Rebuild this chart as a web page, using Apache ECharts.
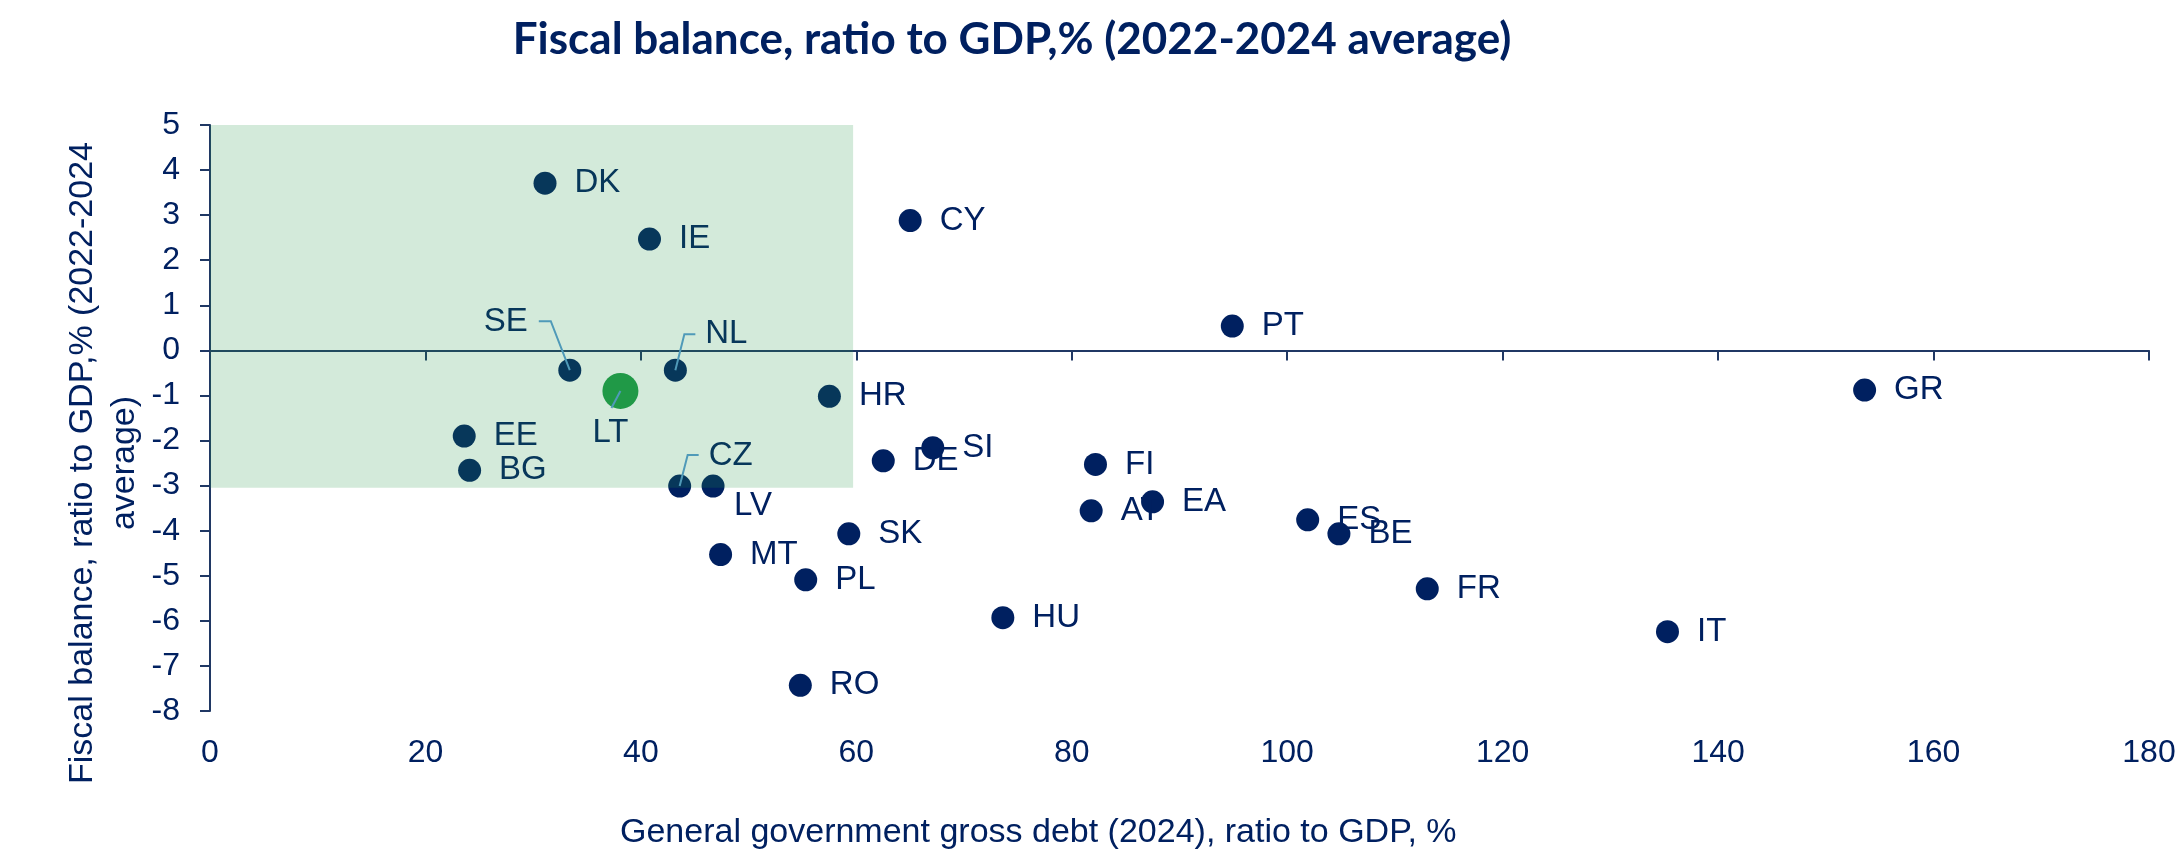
<!DOCTYPE html>
<html>
<head>
<meta charset="utf-8">
<script src="https://cdn.jsdelivr.net/npm/echarts@6/dist/echarts.min.js"></script>
<style>
  html, body { margin: 0; padding: 0; background: #fff; }
  #chart { width: 2182px; height: 856px; }
</style>
</head>
<body>
<div id="chart"></div>
<script>
// Country codes, debt (x) and fiscal balance (y)
const countries = ['DK', 'IE', 'SE', 'NL', 'LT', 'HR', 'EE', 'BG', 'CZ', 'LV', 'MT', 'PL', 'SK', 'RO',
    'CY', 'PT', 'SI', 'DE', 'FI', 'AT', 'EA', 'ES', 'BE', 'FR', 'HU', 'GR', 'IT'];
const debt = [31.1, 40.8, 33.4, 43.2, 38.1, 57.5, 23.6, 24.1, 43.6, 46.7, 47.4, 55.3, 59.3, 54.8,
    65.0, 94.9, 67.1, 62.5, 82.2, 81.8, 87.5, 101.9, 104.8, 113.0, 73.6, 153.6, 135.3];
const balance = [3.71, 2.47, -0.44, -0.44, -0.90, -1.02, -1.90, -2.66, -3.01, -3.01, -4.53, -5.09, -4.07, -7.43,
    2.88, 0.54, -2.16, -2.45, -2.53, -3.56, -3.36, -3.76, -4.07, -5.29, -5.93, -0.88, -6.24];

// Shaded zone (debt <= 60, balance >= -3)
const zoneX = [0, 59.7];
const zoneY = [-3.05, 5];

const highlight = 'LT';

// Labels moved off the default right side (pixel offsets from the dot)
const labelOffsets = {
    SE: [-64, -48],
    NL: [51, -36],
    CZ: [51, -30],
    LV: [40, 20],
    LT: [-10, 42]
};
// Leader lines (pixel offsets from the dot)
const leaders = {
    SE: [[0, 0], [-19, -49], [-31, -49]],
    NL: [[0, 0], [9, -36], [20, -36]],
    CZ: [[0, 0], [8, -31], [19, -31]],
    LT: [[0, 0], [-9, 17]]
};

const navy = '#002060';
const axisColor = '#203864';
const font = 'Liberation Sans, Arial, sans-serif';

const chart = echarts.init(document.getElementById('chart'));

const scatterData = countries.map((c, i) => {
    const item = { name: c, value: [debt[i], balance[i]] };
    if (c === highlight) {
        item.symbolSize = 36;
        item.itemStyle = { color: '#209A48' };
    }
    if (labelOffsets[c]) {
        item.label = { position: 'inside', offset: labelOffsets[c] };
    }
    return item;
});

const leaderData = countries
    .map((c, i) => [debt[i], balance[i], i])
    .filter(d => leaders[countries[d[2]]]);

const option = {
    animation: false,
    grid: { left: 210, right: 33, top: 125, bottom: 145, containLabel: false, outerBoundsMode: 'none' },
    xAxis: [
        {
            type: 'value', min: 0, max: 180, interval: 20, position: 'bottom',
            axisLine: { show: true, onZero: true, lineStyle: { color: axisColor, width: 2 } },
            axisTick: { show: true, length: 10, lineStyle: { color: axisColor, width: 2 } },
            axisLabel: { show: false },
            splitLine: { show: false }
        },
        {
            type: 'value', min: 0, max: 180, interval: 20, position: 'bottom',
            axisLine: { show: false, onZero: false },
            axisTick: { show: false },
            axisLabel: { show: true, margin: 26, color: navy, fontSize: 32, fontFamily: font },
            splitLine: { show: false }
        }
    ],
    yAxis: {
        type: 'value', min: -8, max: 5, interval: 1,
        axisLine: { show: true, onZero: false, lineStyle: { color: axisColor, width: 2 } },
        axisTick: { show: true, length: 10, lineStyle: { color: axisColor, width: 2 } },
        axisLabel: { margin: 30, color: navy, fontSize: 32, fontFamily: font },
        splitLine: { show: false }
    },
    series: [
        {
            type: 'scatter',
            z: 2,
            symbolSize: 23,
            itemStyle: { color: navy, opacity: 1 },
            label: {
                show: true,
                position: 'right',
                distance: 18,
                formatter: p => p.name,
                color: navy,
                fontSize: 33,
                fontFamily: font
            },
            data: scatterData
        },
        {
            type: 'custom',
            z: 3,
            silent: true,
            data: leaderData,
            renderItem: (params, api) => {
                const p = api.coord([api.value(0), api.value(1)]);
                const pts = leaders[countries[api.value(2)]].map(d => [p[0] + d[0], p[1] + d[1]]);
                return {
                    type: 'polyline',
                    shape: { points: pts },
                    style: { stroke: '#5B9BD5', lineWidth: 2, fill: null }
                };
            }
        },
        {
            type: 'custom',
            z: 10,
            silent: true,
            data: [[zoneX[0], zoneY[0], zoneX[1], zoneY[1]]],
            renderItem: (params, api) => {
                const a = api.coord([api.value(0), api.value(3)]);
                const b = api.coord([api.value(2), api.value(1)]);
                return {
                    type: 'rect',
                    shape: { x: a[0], y: a[1], width: b[0] - a[0], height: b[1] - a[1] },
                    style: { fill: 'rgba(35,150,70,0.2)' }
                };
            }
        }
    ],
    graphic: [
        {
            type: 'text', x: 1012, y: 40,
            style: {
                text: 'Fiscal balance, ratio to GDP,% (2022-2024 average)',
                font: 'bold 44px Lato, sans-serif', fill: navy,
                align: 'center', verticalAlign: 'middle', textAlign: 'center', textVerticalAlign: 'middle'
            }
        },
        {
            type: 'text', x: 104, y: 463, rotation: Math.PI / 2,
            style: {
                text: 'Fiscal balance, ratio to GDP,% (2022-2024\naverage)',
                font: '34px ' + font, fill: navy, lineHeight: 42,
                align: 'center', verticalAlign: 'middle', textAlign: 'center', textVerticalAlign: 'middle'
            }
        },
        {
            type: 'text', x: 620, y: 833,
            style: {
                text: 'General government gross debt (2024), ratio to GDP, %',
                font: '34px ' + font, fill: navy,
                align: 'left', verticalAlign: 'middle', textAlign: 'left', textVerticalAlign: 'middle'
            }
        }
    ]
};

chart.setOption(option);
</script>
</body>
</html>
